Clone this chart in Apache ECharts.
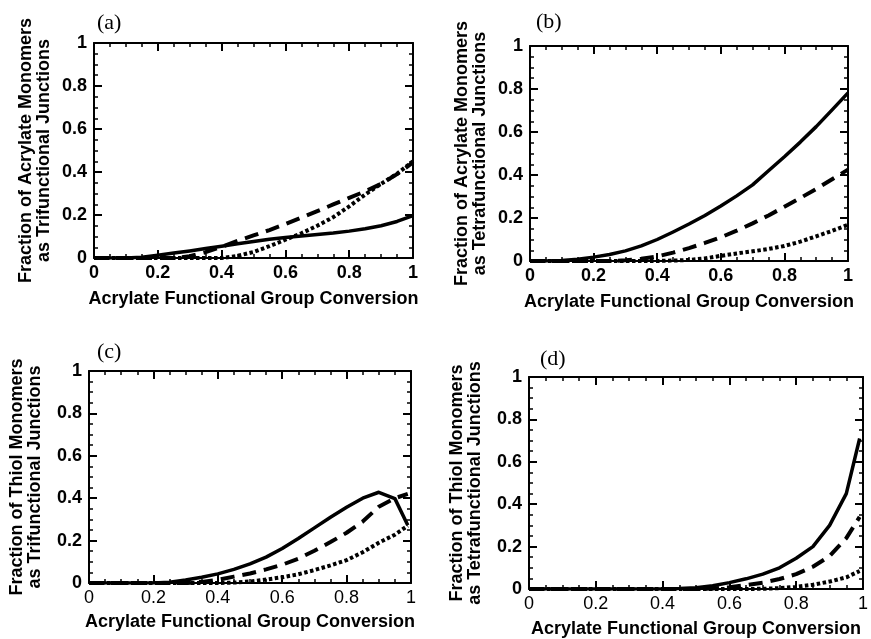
<!DOCTYPE html>
<html>
<head>
<meta charset="utf-8">
<script src="https://cdn.jsdelivr.net/npm/echarts@6/dist/echarts.min.js"></script>
<style>
  html, body { margin: 0; padding: 0; background: #fff; }
  #chart { width: 871px; height: 639px; }
</style>
</head>
<body>
<div id="chart"></div>
<script>
// acrylate functional group conversion (x)
const conv = [0, 0.05, 0.1, 0.15, 0.2, 0.25, 0.3, 0.35, 0.4, 0.45, 0.5, 0.55, 0.6, 0.65, 0.7, 0.75, 0.8, 0.85, 0.9, 0.95, 1]
const convEnd = [0, 0.05, 0.1, 0.15, 0.2, 0.25, 0.3, 0.35, 0.4, 0.45, 0.5, 0.55, 0.6, 0.65, 0.7, 0.75, 0.8, 0.85, 0.9, 0.95, 0.99]
const tickLabels = ['0', '0.2', '0.4', '0.6', '0.8', '1']

// (a) acrylate monomers as trifunctional junctions
const aSolid = [0, 0, 0, 0.004, 0.013, 0.023, 0.033, 0.044, 0.055, 0.066, 0.077, 0.087, 0.095, 0.102, 0.109, 0.116, 0.125, 0.136, 0.15, 0.17, 0.197]
const aDashed = [0, 0, 0, 0, 0, 0, 0.008, 0.027, 0.052, 0.08, 0.105, 0.13, 0.158, 0.188, 0.218, 0.249, 0.28, 0.31, 0.345, 0.39, 0.445]
const aDotted = [0, 0, 0, 0, 0, 0, 0, 0, 0, 0.01, 0.028, 0.055, 0.085, 0.115, 0.15, 0.19, 0.24, 0.295, 0.345, 0.392, 0.45]

// (b) acrylate monomers as tetrafunctional junctions
const bSolid = [0, 0, 0.002, 0.008, 0.018, 0.03, 0.047, 0.07, 0.1, 0.135, 0.172, 0.212, 0.256, 0.303, 0.354, 0.42, 0.485, 0.553, 0.625, 0.703, 0.782]
const bDashed = [0, 0, 0, 0, 0, 0, 0.003, 0.01, 0.021, 0.039, 0.06, 0.084, 0.11, 0.141, 0.175, 0.212, 0.252, 0.293, 0.335, 0.38, 0.425]
const bDotted = [0, 0, 0, 0, 0, 0, 0, 0, 0, 0.002, 0.005, 0.012, 0.024, 0.035, 0.045, 0.056, 0.07, 0.09, 0.115, 0.14, 0.168]

// (c) thiol monomers as trifunctional junctions
const cSolid = [0, 0, 0, 0, 0, 0.004, 0.014, 0.027, 0.043, 0.064, 0.09, 0.122, 0.163, 0.21, 0.26, 0.31, 0.357, 0.4, 0.428, 0.398, 0.272]
const cDashed = [0, 0, 0, 0, 0, 0, 0, 0.005, 0.015, 0.03, 0.045, 0.064, 0.086, 0.115, 0.152, 0.193, 0.237, 0.29, 0.36, 0.4, 0.42]
const cDotted = [0, 0, 0, 0, 0, 0, 0, 0, 0, 0.002, 0.007, 0.016, 0.027, 0.041, 0.061, 0.083, 0.108, 0.145, 0.19, 0.228, 0.27]

// (d) thiol monomers as tetrafunctional junctions
const dSolid = [0, 0, 0, 0, 0, 0, 0, 0, 0, 0.002, 0.006, 0.015, 0.03, 0.048, 0.07, 0.1, 0.145, 0.2, 0.3, 0.45, 0.71]
const dDashed = [0, 0, 0, 0, 0, 0, 0, 0, 0, 0, 0, 0.002, 0.008, 0.018, 0.03, 0.047, 0.07, 0.105, 0.155, 0.24, 0.34]
const dDotted = [0, 0, 0, 0, 0, 0, 0, 0, 0, 0, 0, 0, 0, 0, 0.001, 0.004, 0.01, 0.02, 0.035, 0.055, 0.085]

const xTitle = 'Acrylate Functional Group Conversion'
const sans = 'Liberation Sans'

const panels = [
  { grid: { left: 94, top: 43, width: 319, height: 215 }, tag: '(a)', tagPos: [97, 12],
    yName: 'Fraction of Acrylate Monomers\nas Trifunctional Junctions', yGap: 41, xGap: 32, xBold: true,
    x: conv, lines: [aSolid, aDashed, aDotted] },
  { grid: { left: 530, top: 46, width: 318, height: 215 }, tag: '(b)', tagPos: [536, 11],
    yName: 'Fraction of Acrylate Monomers\nas Tetrafunctional Junctions', yGap: 41, xGap: 32, xBold: true,
    x: conv, lines: [bSolid, bDashed, bDotted] },
  { grid: { left: 89, top: 371, width: 322, height: 212 }, tag: '(c)', tagPos: [97, 341],
    yName: 'Fraction of Thiol Monomers\nas Trifunctional Junctions', yGap: 45, xGap: 30, xBold: false,
    x: convEnd, lines: [cSolid, cDashed, cDotted] },
  { grid: { left: 529, top: 377, width: 334, height: 215 }, tag: '(d)', tagPos: [540, 348],
    yName: 'Fraction of Thiol Monomers\nas Tetrafunctional Junctions', yGap: 45, xGap: 31, xBold: false,
    x: convEnd, lines: [dSolid, dDashed, dDotted] }
]

const lineTypes = ['solid', [14, 8], [3.5, 2.5]]

function frameAxis(gridIndex, position, labelOpt, nameOpt) {
  const ax = {
    type: 'value',
    gridIndex,
    position,
    min: 0,
    max: 1,
    interval: 0.2,
    axisLine: { show: true, onZero: false, lineStyle: { color: '#000', width: 2 } },
    axisTick: { show: true, inside: true, length: 8, lineStyle: { color: '#000', width: 2 } },
    minorTick: { show: true, splitNumber: 4, length: 4, lineStyle: { color: '#000', width: 1.5 } },
    splitLine: { show: false },
    minorSplitLine: { show: false },
    axisLabel: labelOpt || { show: false }
  }
  if (nameOpt) Object.assign(ax, nameOpt)
  return ax
}

const grid = []
const xAxis = []
const yAxis = []
const series = []
const title = []

panels.forEach((p, i) => {
  grid.push(Object.assign({ containLabel: false }, p.grid))
  title.push({
    text: p.tag,
    left: p.tagPos[0],
    top: p.tagPos[1],
    padding: 0,
    textStyle: { fontFamily: 'Liberation Serif', fontWeight: 'normal', fontSize: 22, color: '#000' }
  })

  const bottomIdx = xAxis.length
  xAxis.push(frameAxis(i, 'bottom', {
    show: true, margin: 6, color: '#000', fontFamily: sans, fontSize: 18,
    fontWeight: p.xBold ? 'bold' : 'normal',
    formatter: (v) => tickLabels[Math.round(v / 0.2)]
  }, {
    name: xTitle, nameLocation: 'middle', nameGap: p.xGap,
    nameTextStyle: { color: '#000', fontFamily: sans, fontWeight: 'bold', fontSize: 18 }
  }))
  xAxis.push(frameAxis(i, 'top'))

  const leftIdx = yAxis.length
  yAxis.push(frameAxis(i, 'left', {
    show: true, margin: 7, color: '#000', fontFamily: sans, fontSize: 18, fontWeight: 'bold',
    formatter: (v) => tickLabels[Math.round(v / 0.2)]
  }, {
    name: p.yName, nameLocation: 'middle', nameGap: p.yGap,
    nameTextStyle: { color: '#000', fontFamily: sans, fontWeight: 'bold', fontSize: 18, lineHeight: 18 }
  }))
  yAxis.push(frameAxis(i, 'right'))

  p.lines.forEach((vals, k) => {
    series.push({
      type: 'line',
      xAxisIndex: bottomIdx,
      yAxisIndex: leftIdx,
      data: p.x.map((x, j) => [x, vals[j]]),
      showSymbol: false,
      symbol: 'none',
      smooth: false,
      lineStyle: { color: '#000', width: k === 0 ? 3.5 : 4, type: lineTypes[k], join: 'round' },
      z: 3 - k
    })
  })
})

const chart = echarts.init(document.getElementById('chart'), null, { renderer: 'canvas' })
chart.setOption({
  animation: false,
  backgroundColor: '#fff',
  title,
  grid,
  xAxis,
  yAxis,
  series
})
</script>
</body>
</html>
